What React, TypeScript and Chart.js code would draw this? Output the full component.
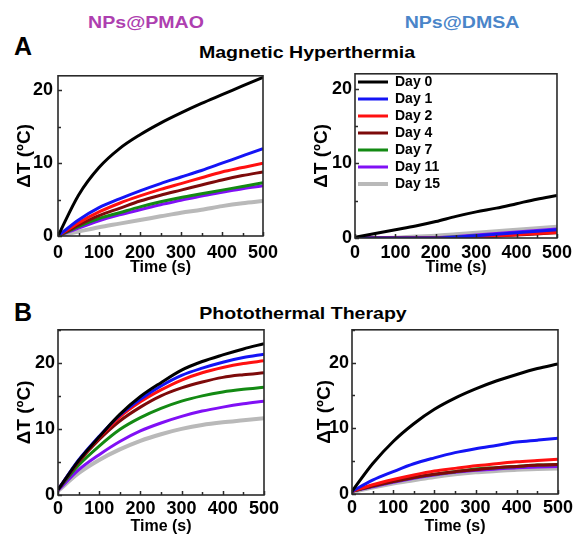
import React, { useEffect, useRef } from 'react';
import { Chart, registerables } from 'chart.js';
Chart.register(...registerables);

// ---------- data ----------
const timeS = [0, 50, 100, 150, 200, 250, 300, 350, 400, 450, 500];
const dayLabels = ['Day 0', 'Day 1', 'Day 2', 'Day 4', 'Day 7', 'Day 11', 'Day 15'];
const dayColors = ['#000000', '#1414f5', '#ff1010', '#7d0a0a', '#138a13', '#8010f5', '#b9b9b9'];

// Magnetic hyperthermia, NPs@PMAO (ΔT, °C)
const mhPmaoDay0 = [0, 5.6, 9.4, 12.0, 13.9, 15.5, 16.9, 18.2, 19.4, 20.6, 21.8];
const mhPmaoDay1 = [0, 2.2, 3.9, 5.1, 6.2, 7.2, 8.1, 9.0, 10.0, 11.0, 12.0];
const mhPmaoDay2 = [0, 1.8, 3.3, 4.5, 5.5, 6.4, 7.2, 8.0, 8.8, 9.4, 10.0];
const mhPmaoDay4 = [0, 1.5, 2.8, 3.8, 4.8, 5.6, 6.3, 7.0, 7.7, 8.3, 8.8];
const mhPmaoDay7 = [0, 1.3, 2.4, 3.2, 4.0, 4.7, 5.3, 5.8, 6.3, 6.8, 7.3];
const mhPmaoDay11 = [0, 1.1, 2.1, 2.9, 3.6, 4.3, 4.9, 5.5, 6.0, 6.5, 6.9];
const mhPmaoDay15 = [0, 0.6, 1.2, 1.7, 2.2, 2.7, 3.2, 3.6, 4.1, 4.5, 4.8];

// Magnetic hyperthermia, NPs@DMSA
const mhDmsaDay0 = [0.1, 0.6, 1.1, 1.6, 2.2, 2.9, 3.5, 4.0, 4.6, 5.2, 5.7];
const mhDmsaDay1 = [0, 0, 0, 0, 0, 0.1, 0.3, 0.5, 0.7, 0.9, 1.1];
const mhDmsaDay2 = [0, 0, 0, 0, 0, 0.05, 0.15, 0.3, 0.45, 0.6, 0.75];
const mhDmsaDay4 = [0, 0, 0, 0, 0, 0.05, 0.1, 0.25, 0.4, 0.55, 0.7];
const mhDmsaDay7 = [0, 0, 0, 0, 0.05, 0.15, 0.3, 0.45, 0.55, 0.65, 0.8];
const mhDmsaDay11 = [0, 0, 0, 0, 0.05, 0.2, 0.4, 0.6, 0.8, 1.0, 1.2];
const mhDmsaDay15 = [0, 0, 0.05, 0.2, 0.3, 0.5, 0.7, 0.9, 1.1, 1.3, 1.5];

// Photothermal therapy, NPs@PMAO
const ptPmaoDay0 = [0.8, 5.2, 8.8, 12.2, 14.9, 17.0, 18.9, 20.2, 21.2, 22.1, 22.9];
const ptPmaoDay1 = [0.8, 5.3, 8.9, 12.1, 14.5, 16.5, 18.1, 19.2, 20.1, 20.8, 21.3];
const ptPmaoDay2 = [0.8, 5.2, 8.7, 11.8, 14.1, 15.9, 17.4, 18.5, 19.3, 19.9, 20.3];
const ptPmaoDay4 = [0.8, 5.0, 8.4, 11.2, 13.3, 15.0, 16.2, 17.1, 17.8, 18.2, 18.5];
const ptPmaoDay7 = [0.8, 4.5, 7.4, 9.9, 11.7, 13.1, 14.2, 15.0, 15.6, 16.0, 16.3];
const ptPmaoDay11 = [0.7, 3.8, 6.1, 8.1, 9.7, 10.9, 11.9, 12.7, 13.3, 13.8, 14.2];
const ptPmaoDay15 = [0.6, 3.3, 5.3, 6.9, 8.2, 9.2, 10.0, 10.6, 11.0, 11.3, 11.6];

// Photothermal therapy, NPs@DMSA
const ptDmsaDay0 = [0.4, 4.6, 8.0, 10.7, 12.9, 14.6, 16.0, 17.2, 18.2, 19.1, 19.8];
const ptDmsaDay1 = [0.4, 2.1, 3.4, 4.6, 5.5, 6.3, 6.9, 7.4, 7.9, 8.2, 8.5];
const ptDmsaDay2 = [0.4, 1.4, 2.2, 2.9, 3.5, 3.9, 4.3, 4.6, 4.9, 5.1, 5.3];
const ptDmsaDay4 = [0.4, 1.2, 1.9, 2.5, 3.0, 3.4, 3.7, 4.0, 4.2, 4.4, 4.5];
const ptDmsaDay7 = [0.4, 1.2, 1.9, 2.5, 3.0, 3.4, 3.8, 4.0, 4.2, 4.4, 4.5];
const ptDmsaDay11 = [0.4, 1.1, 1.8, 2.4, 2.9, 3.3, 3.6, 3.8, 4.0, 4.1, 4.2];
const ptDmsaDay15 = [0.3, 1.0, 1.6, 2.1, 2.6, 3.0, 3.3, 3.5, 3.7, 3.8, 3.9];

const mhPmao = [mhPmaoDay0, mhPmaoDay1, mhPmaoDay2, mhPmaoDay4, mhPmaoDay7, mhPmaoDay11, mhPmaoDay15];
const mhDmsa = [mhDmsaDay0, mhDmsaDay1, mhDmsaDay2, mhDmsaDay4, mhDmsaDay7, mhDmsaDay11, mhDmsaDay15];
const ptPmao = [ptPmaoDay0, ptPmaoDay1, ptPmaoDay2, ptPmaoDay4, ptPmaoDay7, ptPmaoDay11, ptPmaoDay15];
const ptDmsa = [ptDmsaDay0, ptDmsaDay1, ptDmsaDay2, ptDmsaDay4, ptDmsaDay7, ptDmsaDay11, ptDmsaDay15];

const xMin = 0;
const xMax = 500;
const xLabelStep = 100;
const yLabelStep = 10;
const yMaxMH = 22;
const yMaxPT = 25;

// ---------- style ----------
const FONT = '"Liberation Sans", Arial, Helvetica, sans-serif';

const framePlugin = {
  id: 'frame',
  afterDatasetsDraw(chart: any) {
    const { ctx, chartArea: a, scales } = chart;
    const xs = scales.x;
    const ys = scales.y;
    ctx.save();
    ctx.strokeStyle = '#2a2a2a';
    ctx.lineWidth = 1.5;
    ctx.beginPath();
    for (let v = xs.min; v <= xs.max + 1e-9; v += 50) {
      const px = Math.round(xs.getPixelForValue(v)) + 0.5;
      const len = v % 100 === 0 ? 4 : 3;
      ctx.moveTo(px, a.bottom);
      ctx.lineTo(px, a.bottom - len);
    }
    for (let v = ys.min; v <= ys.max + 1e-9; v += 5) {
      const py = Math.round(ys.getPixelForValue(v)) + 0.5;
      const len = v % 10 === 0 ? 4 : 3;
      ctx.moveTo(a.left, py);
      ctx.lineTo(a.left + len, py);
    }
    ctx.stroke();
    ctx.lineWidth = 1.6;
    ctx.strokeRect(a.left, a.top, a.right - a.left, a.bottom - a.top);
    ctx.restore();
  },
};

type Area = { l: number; t: number; r: number; b: number };

function Panel(props: {
  series: number[][];
  yMax: number;
  area: Area;
  padRight: number;
  xAxisH: number;
  yTitlePad: number;
  yTickPad: number;
  xTickPad: number;
  xTitlePad: number;
  legend?: boolean;
}) {
  const { series, yMax, area, padRight, xAxisH, yTitlePad, yTickPad, xTickPad, xTitlePad, legend } = props;
  const yAxisW = 58;
  const padTop = 13;
  const left = area.l - yAxisW;
  const top = area.t - padTop;
  const width = area.r + padRight - left;
  const height = area.b + xAxisH - top;
  const ref = useRef<HTMLCanvasElement | null>(null);

  useEffect(() => {
    if (!ref.current) return;
    const datasets = series.map((vals, i) => ({
      label: dayLabels[i],
      data: vals.map((v, j) => ({ x: timeS[j], y: v })),
      borderColor: dayColors[i],
      backgroundColor: dayColors[i],
      borderWidth: i === 6 ? 4 : 3,
      pointRadius: 0,
      cubicInterpolationMode: 'monotone' as const,
      fill: false,
    }));
    const chart = new Chart(ref.current, {
      type: 'line',
      data: { datasets },
      plugins: [framePlugin],
      options: {
        animation: false,
        responsive: false,
        maintainAspectRatio: false,
        layout: { padding: { left: 0, top: padTop, right: padRight, bottom: 0 } },
        plugins: {
          tooltip: { enabled: false },
          legend: legend
            ? {
                display: true,
                position: 'chartArea' as any,
                align: 'start',
                title: {
                  display: true,
                  text: ' ',
                  font: { size: 1, lineHeight: 1 },
                  padding: { top: 11, bottom: 0 },
                },
                labels: {
                  usePointStyle: true,
                  pointStyle: 'line',
                  pointStyleWidth: 30,
                  boxHeight: 14,
                  padding: 3,
                  color: '#000',
                  font: { family: FONT, size: 14, weight: 'bold' },
                },
              }
            : { display: false },
        },
        scales: {
          x: {
            type: 'linear',
            min: xMin,
            max: xMax,
            grid: { display: false, drawTicks: false },
            border: { display: false },
            ticks: {
              stepSize: xLabelStep,
              includeBounds: false,
              maxRotation: 0,
              autoSkip: false,
              padding: xTickPad,
              color: '#000',
              font: { family: FONT, size: 18, weight: 'bold' },
            },
            title: {
              display: true,
              text: 'Time (s)',
              color: '#000',
              font: { family: FONT, size: 16, weight: 'bold', lineHeight: 1 },
              padding: { top: 0, bottom: xTitlePad },
            },
            afterFit: (s: any) => {
              s.height = xAxisH;
            },
          },
          y: {
            type: 'linear',
            min: 0,
            max: yMax,
            grid: { display: false, drawTicks: false },
            border: { display: false },
            ticks: {
              stepSize: yLabelStep,
              includeBounds: false,
              padding: yTickPad,
              color: '#000',
              font: { family: FONT, size: 18, weight: 'bold' },
            },
            title: {
              display: true,
              text: 'ΔT (ºC)',
              color: '#000',
              font: { family: FONT, size: 19, weight: 'bold', lineHeight: 1 },
              padding: { top: yTitlePad, bottom: 0 },
            },
            afterFit: (s: any) => {
              s.width = yAxisW;
            },
          },
        },
      } as any,
    });
    return () => chart.destroy();
  }, []);

  return (
    <canvas
      ref={ref}
      width={width}
      height={height}
      style={{ position: 'absolute', left, top, width, height }}
    />
  );
}

function Label(props: { text: string; cx?: number; x?: number; cy: number; size: number; color?: string; stretch?: number }) {
  const { text, cx, x, cy, size, color = '#000', stretch = 1 } = props;
  const centered = cx !== undefined;
  return (
    <div
      style={{
        position: 'absolute',
        left: centered ? cx : x,
        top: cy - size / 2,
        fontFamily: FONT,
        fontWeight: 'bold',
        fontSize: size,
        lineHeight: `${size}px`,
        color,
        whiteSpace: 'nowrap',
        transform: centered ? `translateX(-50%) scaleX(${stretch})` : `scaleX(${stretch})`,
        transformOrigin: centered ? 'center' : 'left',
      }}
    >
      {text}
    </div>
  );
}

export default function App() {
  return (
    <div style={{ position: 'absolute', left: 0, top: 0, width: 578, height: 535, background: '#fff', overflow: 'hidden' }}>
      <Label text="NPs@PMAO" cx={146} cy={22} size={17} color="#ae3fb0" stretch={1.15} />
      <Label text="NPs@DMSA" cx={462} cy={22} size={17} color="#4a85c9" stretch={1.15} />
      <Label text="A" x={14} cy={46} size={25} />
      <Label text="Magnetic Hyperthermia" cx={307} cy={52} size={17} stretch={1.15} />
      <Label text="B" x={14} cy={312} size={25} />
      <Label text="Photothermal Therapy" cx={303} cy={313} size={17} stretch={1.15} />

      <Panel series={mhPmao} yMax={yMaxMH} area={{ l: 58, t: 73, r: 263, b: 236 }} padRight={27} xAxisH={51} yTitlePad={15} yTickPad={5} xTickPad={6} xTitlePad={11} />
      <Panel series={mhDmsa} yMax={yMaxMH} area={{ l: 355, t: 73, r: 559, b: 238 }} padRight={17} xAxisH={49} yTitlePad={15} yTickPad={3} xTickPad={4} xTitlePad={11} legend />
      <Panel series={ptPmao} yMax={yMaxPT} area={{ l: 58, t: 329, r: 264, b: 495 }} padRight={26} xAxisH={40} yTitlePad={15} yTickPad={3} xTickPad={3} xTitlePad={0} />
      <Panel series={ptDmsa} yMax={yMaxPT} area={{ l: 352, t: 329, r: 559, b: 494 }} padRight={17} xAxisH={41} yTitlePad={21} yTickPad={3} xTickPad={3} xTitlePad={0} />
    </div>
  );
}
